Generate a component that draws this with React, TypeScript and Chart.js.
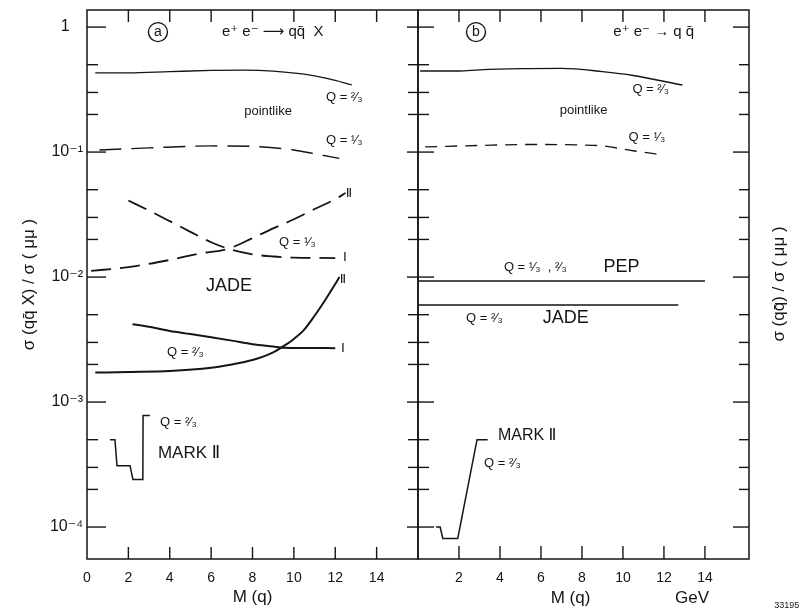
import React, { useEffect, useRef } from 'react';
import { Chart, registerables } from 'chart.js';

Chart.register(...registerables);

const FONT = '"Liberation Sans", "DejaVu Sans", Arial, sans-serif';
const INK = '#151515';

// ---------- axes ----------
const X_MIN = 0;
const X_MAX_LEFT = 16;
const X_MAX_RIGHT = 16.15;
const Y_MIN = 5.55e-5;
const Y_MAX = 1.37;

const xTickValues = [0, 2, 4, 6, 8, 10, 12, 14];
const xTickLabelsLeft = ['0', '2', '4', '6', '8', '10', '12', '14'];
const xTickLabelsRight = ['', '2', '4', '6', '8', '10', '12', '14'];
const yMajorValues = [1, 1e-1, 1e-2, 1e-3, 1e-4];
const yMajorLabels = ['1   ', '10⁻¹', '10⁻²', '10⁻³', '10⁻⁴'];
const yMinorFactors = [2, 3, 5];

// ---------- panel (a): e+e- -> q qbar X ----------
const aPointQ23M = [0.4, 2, 4, 6, 7.6, 9, 10.5, 11.7, 12.8];
const aPointQ23S = [0.43, 0.43, 0.44, 0.45, 0.453, 0.445, 0.42, 0.385, 0.345];

const aPointQ13M = [0.6, 3, 6, 8, 10, 11, 12.2];
const aPointQ13S = [0.104, 0.108, 0.112, 0.111, 0.104, 0.097, 0.089];

const aJadeQ13IM = [2, 3, 4, 5, 6, 7, 8, 9, 10, 12];
const aJadeQ13IS = [0.041, 0.034, 0.028, 0.023, 0.019, 0.0165, 0.0152, 0.0146, 0.0143, 0.0142];

const aJadeQ13IIM = [0.2, 2, 4, 5.5, 6.8, 8, 9, 10, 11, 12, 12.5];
const aJadeQ13IIS = [0.0112, 0.012, 0.0137, 0.0155, 0.0168, 0.0205, 0.0245, 0.029, 0.035, 0.042, 0.047];

const aJadeQ23IM = [2.2, 3, 4, 5, 6, 7, 8, 9, 9.5, 12];
const aJadeQ23IS = [0.0042, 0.004, 0.0037, 0.0035, 0.0033, 0.0031, 0.0029, 0.00278, 0.00272, 0.0027];

const aJadeQ23IIM = [0.4, 2, 4, 6, 7, 8, 9, 9.5, 10, 10.5, 11, 11.5, 12, 12.2];
const aJadeQ23IIS = [0.00172, 0.00174, 0.00177, 0.00188, 0.002, 0.00217, 0.0025, 0.0028, 0.0032, 0.0038, 0.0049, 0.0065, 0.0088, 0.01];

const aMarkQ23M = [1.11, 1.35, 1.45, 2.08, 2.22, 2.7, 2.71, 3.04];
const aMarkQ23S = [5e-4, 5e-4, 3.1e-4, 3.1e-4, 2.4e-4, 2.4e-4, 7.8e-4, 7.8e-4];

// ---------- panel (b): e+e- -> q qbar ----------
const bPointQ23M = [0.1, 2, 3, 5, 7, 9, 10.5, 12.9];
const bPointQ23S = [0.445, 0.445, 0.455, 0.465, 0.467, 0.44, 0.41, 0.344];

const bPointQ13M = [0.35, 3, 5.5, 8, 9, 10.5, 12];
const bPointQ13S = [0.11, 0.113, 0.115, 0.114, 0.112, 0.1025, 0.0945];

const bPepM = [0.05, 14.0];
const bPepS = [0.0093, 0.0093];

const bJadeQ23M = [0.05, 12.7];
const bJadeQ23S = [0.00597, 0.00597];

const bMarkQ23M = [0.88, 1.08, 1.21, 1.94, 2.88, 3.4];
const bMarkQ23S = [1e-4, 1e-4, 8.1e-5, 8.1e-5, 5e-4, 5e-4];

// ---------- annotations (data coordinates) ----------
type Note = { text: string; x: number; y: number; size: number; align?: CanvasTextAlign; circle?: boolean };

const notesA: Note[] = [
  { text: 'a', x: 3.43, y: 0.912, size: 14, circle: true },
  { text: 'e⁺ e⁻ ⟶ qq̄  X', x: 6.52, y: 0.912, size: 15, align: 'left' },
  { text: 'Q = ²⁄₃', x: 11.55, y: 0.275, size: 13, align: 'left' },
  { text: 'pointlike', x: 8.75, y: 0.213, size: 13 },
  { text: 'Q = ¹⁄₃', x: 11.55, y: 0.125, size: 13, align: 'left' },
  { text: 'Ⅱ', x: 12.66, y: 0.047, size: 13 },
  { text: 'Q = ¹⁄₃', x: 9.28, y: 0.0191, size: 13, align: 'left' },
  { text: 'Ⅰ', x: 12.47, y: 0.01445, size: 13 },
  { text: 'Ⅱ', x: 12.37, y: 0.00964, size: 13 },
  { text: 'JADE', x: 6.86, y: 0.00847, size: 18 },
  { text: 'Q = ²⁄₃', x: 3.87, y: 0.00251, size: 13, align: 'left' },
  { text: 'Ⅰ', x: 12.37, y: 0.0027, size: 13 },
  { text: 'Q = ²⁄₃', x: 3.53, y: 0.00069, size: 13, align: 'left' },
  { text: 'MARK Ⅱ', x: 3.43, y: 0.00039, size: 17, align: 'left' },
];

const notesB: Note[] = [
  { text: 'b', x: 2.83, y: 0.912, size: 14, circle: true },
  { text: 'e⁺ e⁻ → q q̄', x: 9.53, y: 0.912, size: 15, align: 'left' },
  { text: 'Q = ²⁄₃', x: 10.46, y: 0.319, size: 13, align: 'left' },
  { text: 'pointlike', x: 8.08, y: 0.217, size: 13 },
  { text: 'Q = ¹⁄₃', x: 10.27, y: 0.132, size: 13, align: 'left' },
  { text: 'Q = ¹⁄₃  , ²⁄₃', x: 4.19, y: 0.012, size: 13, align: 'left' },
  { text: 'PEP', x: 9.05, y: 0.012, size: 18, align: 'left' },
  { text: 'Q = ²⁄₃', x: 2.34, y: 0.0047, size: 13, align: 'left' },
  { text: 'JADE', x: 6.09, y: 0.0047, size: 18, align: 'left' },
  { text: 'MARK Ⅱ', x: 3.9, y: 0.000535, size: 16, align: 'left' },
  { text: 'Q = ²⁄₃', x: 3.22, y: 0.000325, size: 13, align: 'left' },
];

// texts below / beside panel (b): x in data units, dy in px from chart-area bottom
type Side = { text: string; x: number; dy: number; size: number; rotate?: boolean };
const sideB: Side[] = [
  { text: 'M (q)', x: 7.44, dy: 39, size: 17 },
  { text: 'GeV', x: 13.37, dy: 39, size: 17 },
  { text: '33195', x: 17.99, dy: 47, size: 9 },
  { text: 'σ (qq̄) / σ ( μμ )', x: 17.65, dy: -275, size: 17, rotate: true },
];

const pts = (xs: number[], ys: number[]) => xs.map((x, i) => ({ x, y: ys[i] }));

const line = (xs: number[], ys: number[], width: number, dash: number[] = [], smooth = true) => ({
  data: pts(xs, ys),
  borderColor: INK,
  borderWidth: width,
  borderDash: dash,
  pointRadius: 0,
  fill: false,
  tension: smooth ? 0.4 : 0,
  cubicInterpolationMode: smooth ? 'monotone' : 'default',
  borderCapStyle: 'butt',
});

const panelPlugin = {
  id: 'panel',
  afterDraw(chart: any, _args: any, opts: any) {
    const { ctx, chartArea: a, scales } = chart;
    const xs = scales.x;
    const ys = scales.y;
    ctx.save();
    ctx.strokeStyle = INK;
    ctx.lineWidth = 1.5;
    ctx.setLineDash([]);
    ctx.strokeRect(a.left, a.top, a.right - a.left, a.bottom - a.top);
    ctx.lineWidth = 1.4;
    const seg = (x1: number, y1: number, x2: number, y2: number) => {
      ctx.beginPath();
      ctx.moveTo(x1, y1);
      ctx.lineTo(x2, y2);
      ctx.stroke();
    };
    // x ticks (bottom and top, inward)
    for (const v of xTickValues) {
      if (v <= xs.min) continue;
      const px = xs.getPixelForValue(v);
      seg(px, a.bottom, px, a.bottom - opts.xTickBottom);
      seg(px, a.top, px, a.top + opts.xTickTop);
    }
    // y ticks
    for (const v of yMajorValues) {
      const py = ys.getPixelForValue(v);
      seg(a.left, py, a.left + opts.leftMajor, py);
      seg(a.right, py, a.right - opts.rightMajor, py);
    }
    for (const d of yMajorValues.concat([1e-5])) {
      for (const f of yMinorFactors) {
        const v = d * f;
        if (v <= Y_MIN || v >= Y_MAX) continue;
        const py = ys.getPixelForValue(v);
        seg(a.left, py, a.left + opts.leftMinor, py);
        seg(a.right, py, a.right - opts.rightMinor, py);
      }
    }
    // annotations
    ctx.fillStyle = INK;
    ctx.textBaseline = 'middle';
    for (const n of opts.notes as Note[]) {
      const px = xs.getPixelForValue(n.x);
      const py = ys.getPixelForValue(n.y);
      ctx.font = `${n.size}px ${FONT}`;
      if (n.circle) {
        ctx.lineWidth = 1.4;
        ctx.beginPath();
        ctx.arc(px, py, 9.5, 0, Math.PI * 2);
        ctx.stroke();
        ctx.textAlign = 'center';
        ctx.fillText(n.text, px, py);
      } else {
        ctx.textAlign = n.align || 'center';
        ctx.fillText(n.text, px, py);
      }
    }
    for (const s of (opts.side || []) as Side[]) {
      const px = xs.getPixelForValue(s.x);
      const py = a.bottom + s.dy;
      ctx.font = `${s.size}px ${FONT}`;
      ctx.textAlign = 'center';
      if (s.rotate) {
        ctx.save();
        ctx.translate(px, py);
        ctx.rotate(-Math.PI / 2);
        ctx.fillText(s.text, 0, 0);
        ctx.restore();
      } else {
        ctx.fillText(s.text, px, py);
      }
    }
    ctx.restore();
  },
};

const W = 799;
const H = 613;
const LEFT_EDGE = 87;
const MID_EDGE = 418;
const RIGHT_EDGE = 749;
const TOP_EDGE = 10;
const BOTTOM_EDGE = 559;

function makeConfig(panel: 'a' | 'b'): any {
  const isA = panel === 'a';
  const datasets = isA
    ? [
        line(aPointQ23M, aPointQ23S, 1.3),
        line(aPointQ13M, aPointQ13S, 1.4, [22, 10]),
        line(aJadeQ13IM, aJadeQ13IS, 1.8, [20, 9]),
        line(aJadeQ13IIM, aJadeQ13IIS, 1.8, [20, 9]),
        line(aJadeQ23IM, aJadeQ23IS, 2),
        line(aJadeQ23IIM, aJadeQ23IIS, 2),
        line(aMarkQ23M, aMarkQ23S, 1.5, [], false),
      ]
    : [
        line(bPointQ23M, bPointQ23S, 1.4),
        line(bPointQ13M, bPointQ13S, 1.3, [12, 8]),
        line(bPepM, bPepS, 1.5, [], false),
        line(bJadeQ23M, bJadeQ23S, 1.5, [], false),
        line(bMarkQ23M, bMarkQ23S, 1.5, [], false),
      ];
  return {
    type: 'line',
    data: { datasets },
    options: {
      animation: false,
      responsive: false,
      events: [],
      layout: {
        padding: {
          top: TOP_EDGE,
          left: 0,
          bottom: 0,
          right: isA ? W - MID_EDGE : W - RIGHT_EDGE,
        },
      },
      plugins: {
        legend: { display: false },
        tooltip: { enabled: false },
        panel: isA
          ? { notes: notesA, xTickBottom: 12, xTickTop: 12, leftMajor: 19, leftMinor: 11, rightMajor: 11, rightMinor: 10 }
          : { notes: notesB, side: sideB, xTickBottom: 13, xTickTop: 12, leftMajor: 16, leftMinor: 11, rightMajor: 16, rightMinor: 10 },
      },
      scales: {
        x: {
          type: 'linear',
          min: X_MIN,
          max: isA ? X_MAX_LEFT : X_MAX_RIGHT,
          grid: { display: false },
          border: { display: false },
          afterBuildTicks: (s: any) => {
            s.ticks = xTickValues.map((v) => ({ value: v }));
          },
          afterFit: (s: any) => {
            s.height = H - BOTTOM_EDGE;
          },
          ticks: {
            autoSkip: false,
            maxRotation: 0,
            padding: 3,
            color: INK,
            font: { family: FONT, size: 14 },
            callback: (_v: any, i: number) => (isA ? xTickLabelsLeft[i] : xTickLabelsRight[i]),
          },
          title: {
            display: isA,
            text: 'M (q)',
            color: INK,
            font: { family: FONT, size: 17 },
            padding: { top: 0, bottom: 5 },
          },
        },
        y: {
          type: 'logarithmic',
          min: Y_MIN,
          max: Y_MAX,
          grid: { display: false },
          border: { display: false },
          afterBuildTicks: (s: any) => {
            s.ticks = yMajorValues.map((v) => ({ value: v }));
          },
          afterFit: (s: any) => {
            s.width = isA ? LEFT_EDGE : MID_EDGE;
          },
          ticks: {
            display: isA,
            autoSkip: false,
            padding: -4,
            color: INK,
            font: { family: FONT, size: 16 },
            callback: (_v: any, i: number) => yMajorLabels[i],
          },
          title: {
            display: isA,
            text: 'σ (qq̄ X) / σ ( μμ )',
            color: INK,
            font: { family: FONT, size: 17 },
            padding: { top: 19, bottom: 0 },
          },
        },
      },
    },
    plugins: [panelPlugin],
  };
}

export default function App() {
  const refA = useRef<HTMLCanvasElement | null>(null);
  const refB = useRef<HTMLCanvasElement | null>(null);

  useEffect(() => {
    if (!refA.current || !refB.current) return;
    const ca = new Chart(refA.current, makeConfig('a'));
    const cb = new Chart(refB.current, makeConfig('b'));
    return () => {
      ca.destroy();
      cb.destroy();
    };
  }, []);

  const canvasStyle: React.CSSProperties = { position: 'absolute', left: 0, top: 0, width: W, height: H };
  return (
    <div style={{ position: 'absolute', left: 0, top: 0, width: W, height: H, background: '#fff', overflow: 'hidden' }}>
      <canvas ref={refA} width={W} height={H} style={canvasStyle} />
      <canvas ref={refB} width={W} height={H} style={canvasStyle} />
    </div>
  );
}
